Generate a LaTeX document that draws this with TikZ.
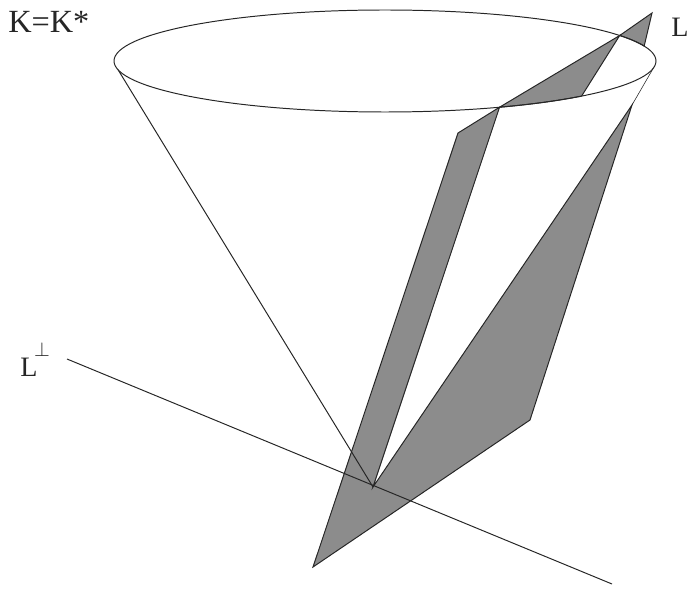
\documentclass[tikz,border=0pt]{standalone}
\usepackage{fontspec}
\setmainfont{Liberation Serif}
\usetikzlibrary{calc}
\colorlet{mydarkgray}{black!85}
\colorlet{wallcol}{black!45}
\tikzstyle{wall}=[draw=mydarkgray,fill=wallcol,line width=0.7pt,line join=miter]
\tikzstyle{edge}=[draw=mydarkgray,line width=0.7pt]
\tikzstyle{label}=[anchor=base west,inner sep=0pt,text=mydarkgray,font=\fontsize{20}{24}\selectfont]

\begin{document}
\begin{tikzpicture}[x=0.025cm,y=-0.025cm]
  \def\Cx{385}  % ellipse centre
  \def\Cy{61}
  \def\Rx{271}  % ellipse radii
  \def\Ry{51}
  % Clip to the size of the reference
  \clip (0,0) rectangle (688,590);

  % apex and points on the rim
  \coordinate (apex) at (373,487);
  \coordinate (rimA) at ({\Cx+\Rx*cos(-30)},{\Cy+\Ry*sin(-30)});
  \coordinate (rimB) at ({\Cx+\Rx*cos(-17)},{\Cy+\Ry*sin(-17)});
  \coordinate (rimC) at ({\Cx+\Rx*cos(43.5)},{\Cy+\Ry*sin(43.5)});
  \coordinate (rimD) at ({\Cx+\Rx*cos(65)},{\Cy+\Ry*sin(65)});
  \coordinate (rimL) at ({\Cx+\Rx*cos(170)},{\Cy+\Ry*sin(170)});
  \coordinate (rimR) at ({\Cx+\Rx*cos(8)},{\Cy+\Ry*sin(8)});

  % shaded section, lower part
  \draw[wall] (313,567) -- (458,133) -- (rimD) -- (apex) -- (632,105) -- (530,420) -- cycle;
  % shaded section, parts at the rim
  \draw[wall] (rimD) -- (rimA) -- (rimC) arc[start angle=43.5,end angle=65,x radius=\Rx,y radius=\Ry] -- cycle;
  \draw[wall] (rimA) -- (652,13) -- (rimB) arc[start angle=-17,end angle=-30,x radius=\Rx,y radius=\Ry] -- cycle;

  % cone
  \draw[edge] (\Cx,\Cy) ellipse[x radius=\Rx,y radius=\Ry];
  \draw[edge] (rimL) -- (apex);
  \draw[edge,line width=0.4pt] (rimR) -- (632,105);

  % the orthogonal line
  \draw[edge] (67,359) -- (612,584);

  \node[label,font=\fontsize{23}{26}\selectfont] (coneK) at (8,33) {K=K*};
  \node[label] (lineL) at (671,37) {L};
  \node[label] (lineLperp) at (20,376) {L\kern-0.12em\raisebox{0.7em}{$\scriptstyle\perp$}};
\end{tikzpicture}
\end{document}
